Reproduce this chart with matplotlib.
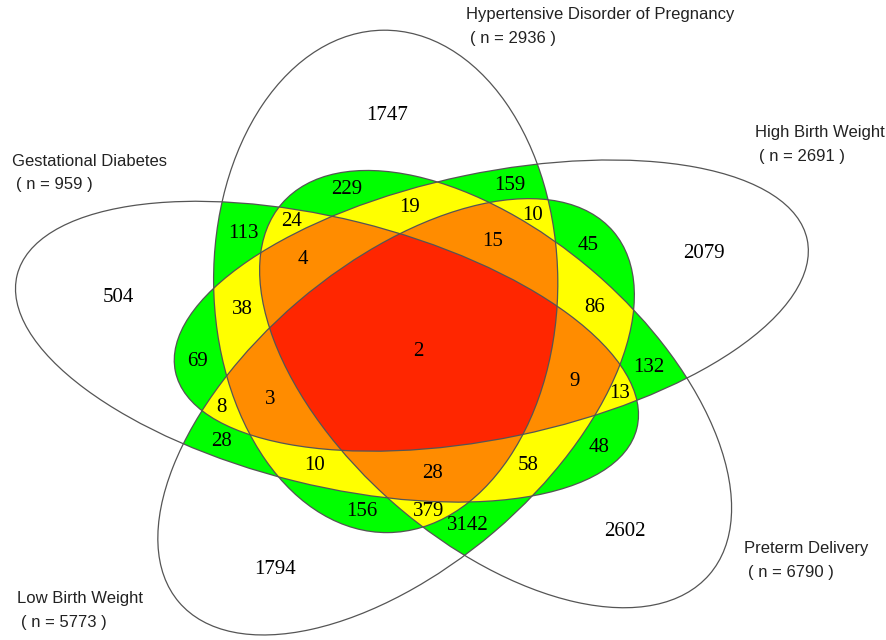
import numpy as np
import matplotlib
matplotlib.use("Agg")
import matplotlib.pyplot as plt
from matplotlib.patches import Ellipse

W, H = 887, 640

set_names = ["Hypertensive Disorder of Pregnancy", "High Birth Weight", "Preterm Delivery",
             "Low Birth Weight", "Gestational Diabetes"]
set_sizes = [2936, 2691, 6790, 5773, 959]

region_counts = [1747, 2079, 2602, 1794, 504,
                 229, 159, 113, 24, 19, 10, 15, 45, 4, 86, 38, 69, 2, 9, 132, 13,
                 8, 3, 28, 10, 28, 58, 48, 156, 379, 3142]

# ellipse layout in pixel space: centre x, centre y, semi-major, semi-minor, angle
ellipses = [
    (385.7, 281.4, 251.2, 172.1, -90.5),   # hypertensive
    (491.3, 305.6, 322.7, 132.6, 168.2),   # high birth weight
    (495.6, 389.1, 283.0, 153.0, -139.0),  # preterm
    (396.1, 416.8, 285.5, 151.2, 139.5),   # low birth weight
    (327.0, 351.7, 319.2, 133.3, -166.1),  # gestational diabetes
]

fig = plt.figure(figsize=(W / 100, H / 100), dpi=100)
ax = fig.add_axes([0, 0, 1, 1])
ax.set_xlim(0, W)
ax.set_ylim(H, 0)
ax.axis("off")

# colour each pixel by how many sets cover it
X, Y = np.meshgrid(np.arange(W) + 0.5, np.arange(H) + 0.5)
count = np.zeros(X.shape, int)
for cx, cy, a, b, ang in ellipses:
    t = np.radians(ang)
    dx, dy = X - cx, Y - cy
    u = dx * np.cos(t) + dy * np.sin(t)
    v = -dx * np.sin(t) + dy * np.cos(t)
    count += ((u / a) ** 2 + (v / b) ** 2 <= 1).astype(int)

palette = np.array([[255, 255, 255], [255, 255, 255], [0, 255, 0], [255, 255, 0],
                    [255, 140, 0], [255, 38, 0]]) / 255.0
ax.imshow(palette[count], extent=(0, W, H, 0), interpolation="nearest", zorder=0)

for cx, cy, a, b, ang in ellipses:
    ax.add_patch(Ellipse((cx, cy), 2 * a, 2 * b, angle=ang, fill=False, ec="#555555", lw=0.9, zorder=2))

label_pos = [(387, 115), (704, 253), (625, 531), (275, 569), (118, 297),
             (347, 190), (510, 185), (243, 234), (292, 222), (410, 208), (533, 215), (493, 242),
             (588, 245), (303, 260), (595, 308), (242, 310), (198, 362), (418, 352), (575, 382),
             (649, 367), (620, 393), (221, 408), (270, 399), (222, 442), (315, 465), (433, 474),
             (528, 465), (599, 448), (362, 512), (429, 511), (468, 526)]
for n, (x, y) in zip(region_counts, label_pos):
    ax.text(x, y, str(n), ha="center", va="center", fontsize=15, family="Liberation Serif", zorder=3)

name_pos = [(466, 14), (755, 133), (744, 549), (17, 599), (12, 161)]
for name, size, (x, y) in zip(set_names, set_sizes, name_pos):
    ax.text(x, y, name, ha="left", va="center", fontsize=12, family="Liberation Sans", color="#222222")
    ax.text(x + 4, y + 24, "( n = %d )" % size, ha="left", va="center", fontsize=12,
            family="Liberation Sans", color="#222222")

fig.savefig("out.png", dpi=100)
